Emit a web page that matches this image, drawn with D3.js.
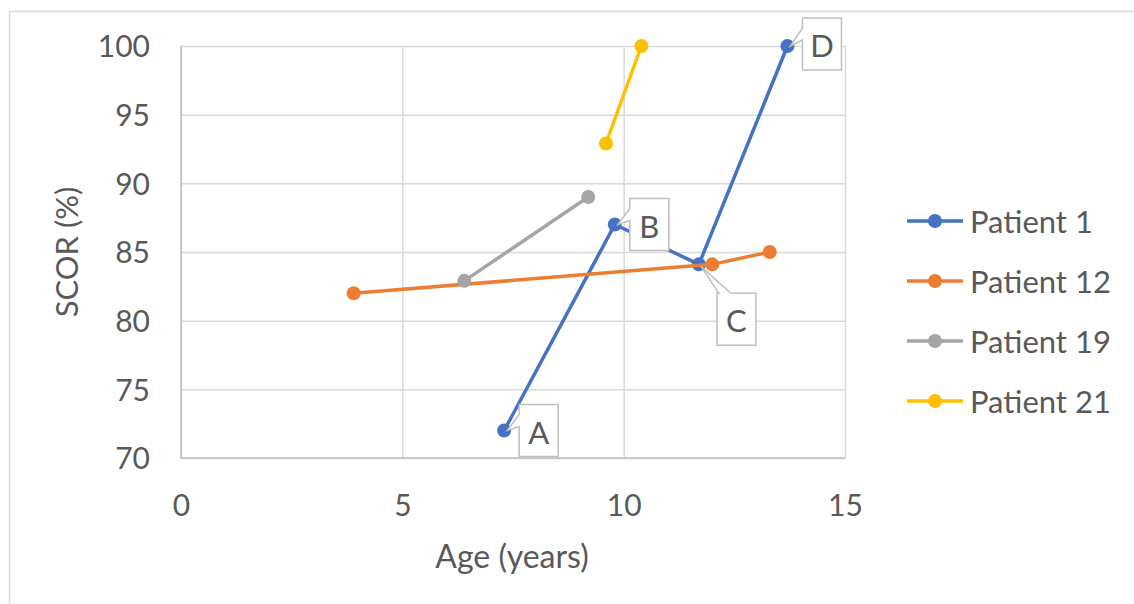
<!DOCTYPE html>
<html>
<head>
<meta charset="utf-8">
<script src="https://cdn.jsdelivr.net/npm/d3@7"></script>
<style>
  body { margin: 0; background: #fff; }
  text { font-family: Lato, "Open Sans", sans-serif; fill: #595959; }
</style>
</head>
<body>
<svg id="chart" width="1134" height="604"></svg>
<script>
// series
const seriesNames = ['Patient 1', 'Patient 12', 'Patient 19', 'Patient 21'];
const seriesColors = ['#4472C4', '#ED7D31', '#A5A5A5', '#FFC000'];
const patient1 = [[7.3, 72], [9.8, 87], [11.7, 84.1], [13.7, 100]];
const patient12 = [[3.9, 82], [12.0, 84.1], [13.3, 85]];
const patient19 = [[6.4, 82.9], [9.2, 89]];
const patient21 = [[9.6, 92.9], [10.4, 100]];
const patient1Labels = ['A', 'B', 'C', 'D'];
const xTicks = [0, 5, 10, 15];
const yTicks = [70, 75, 80, 85, 90, 95, 100];

const seriesData = [patient1, patient12, patient19, patient21];

const svg = d3.select('#chart');
const plot = { left: 181, right: 845, top: 46, bottom: 458 };

const x = d3.scaleLinear().domain([0, 15]).range([plot.left, plot.right]);
const y = d3.scaleLinear().domain([70, 100]).range([plot.bottom, plot.top]);

// outer chart border (runs off the right and bottom of the picture)
svg.append('rect')
  .attr('x', 9.5).attr('y', 11.5)
  .attr('width', 1200).attr('height', 700)
  .attr('fill', 'none')
  .attr('stroke', '#d9d9d9')
  .attr('stroke-width', 1.5);

// gridlines + tick labels
const yAxis = svg.append('g')
  .attr('transform', `translate(${plot.left},0)`)
  .call(d3.axisLeft(y).tickValues(yTicks).tickSize(-(plot.right - plot.left)).tickPadding(31));
yAxis.select('.domain').remove();
yAxis.selectAll('line').attr('stroke', '#d9d9d9').attr('stroke-width', 1.5);
yAxis.selectAll('text')
  .attr('font-family', 'Lato, sans-serif')
  .attr('font-size', 30)
  .attr('dy', '0.36em')
  .style('fill', '#595959');

const xAxis = svg.append('g')
  .attr('transform', `translate(0,${plot.bottom})`)
  .call(d3.axisBottom(x).tickValues(xTicks).tickSize(-(plot.bottom - plot.top)).tickPadding(0));
xAxis.select('.domain').remove();
xAxis.selectAll('line').attr('stroke', '#d9d9d9').attr('stroke-width', 1.5);
xAxis.selectAll('text')
  .attr('font-family', 'Lato, sans-serif')
  .attr('font-size', 30)
  .attr('y', 47)
  .attr('dy', '0.36em')
  .style('fill', '#595959');

// left and bottom axis lines a bit darker
svg.append('path')
  .attr('d', `M${plot.left},${plot.top}V${plot.bottom}H${plot.right}`)
  .attr('fill', 'none')
  .attr('stroke', '#bfbfbf')
  .attr('stroke-width', 1.5);

// axis titles
svg.append('text')
  .attr('x', 512).attr('y', 555)
  .attr('text-anchor', 'middle')
  .attr('dominant-baseline', 'central')
  .attr('font-size', 32)
  .text('Age (years)');

svg.append('text')
  .attr('transform', 'translate(66,252) rotate(-90)')
  .attr('text-anchor', 'middle')
  .attr('dominant-baseline', 'central')
  .attr('font-size', 31)
  .text('SCOR (%)');

// lines and markers
const line = d3.line().x((d) => x(d[0])).y((d) => y(d[1]));
seriesData.forEach((pts, i) => {
  svg.append('path')
    .datum(pts)
    .attr('d', line)
    .attr('fill', 'none')
    .attr('stroke', seriesColors[i])
    .attr('stroke-width', 3.5)
    .attr('stroke-linejoin', 'round');
  svg.selectAll(null)
    .data(pts)
    .join('circle')
    .attr('cx', (d) => x(d[0]))
    .attr('cy', (d) => y(d[1]))
    .attr('r', 7)
    .attr('fill', seriesColors[i]);
});

// callout labels for patient 1: box offset from point, wedge on left or top side
const calloutLayout = [
  { dx: 15, dy: -26, side: 'left' },
  { dx: 15, dy: -26, side: 'left' },
  { dx: 18, dy: 29, side: 'top' },
  { dx: 15, dy: -28, side: 'left' },
];
const boxW = 39;
const boxH = 52;
patient1.forEach((d, i) => {
  const px = x(d[0]);
  const py = y(d[1]);
  const l = calloutLayout[i];
  const bx = px + l.dx;
  const by = py + l.dy;
  let p;
  if (l.side === 'left') {
    p = `M${bx},${by}H${bx + boxW}V${by + boxH}H${bx}V${by + 22}L${px + 3},${py}L${bx},${by + 10}Z`;
  } else {
    p = `M${bx},${by}H${bx + 2}L${px + 2},${py + 2}L${bx + 14},${by}H${bx + boxW}V${by + boxH}H${bx}Z`;
  }
  svg.append('path')
    .attr('d', p)
    .attr('fill', '#fff')
    .attr('stroke', '#bfbfbf')
    .attr('stroke-width', 1.5);
  svg.append('text')
    .attr('x', bx + boxW / 2)
    .attr('y', by + boxH / 2 + 1)
    .attr('text-anchor', 'middle')
    .attr('dominant-baseline', 'central')
    .attr('font-size', 31)
    .text(patient1Labels[i]);
});

// legend
const legend = svg.append('g').attr('transform', 'translate(907,221)');
seriesNames.forEach((name, i) => {
  const g = legend.append('g').attr('transform', `translate(0,${60 * i})`);
  g.append('line')
    .attr('x1', 0).attr('x2', 56)
    .attr('stroke', seriesColors[i])
    .attr('stroke-width', 3.5);
  g.append('circle')
    .attr('cx', 28).attr('r', 7)
    .attr('fill', seriesColors[i]);
  g.append('text')
    .attr('x', 63)
    .attr('dominant-baseline', 'central')
    .attr('font-size', 31)
    .text(name);
});
</script>
</body>
</html>
